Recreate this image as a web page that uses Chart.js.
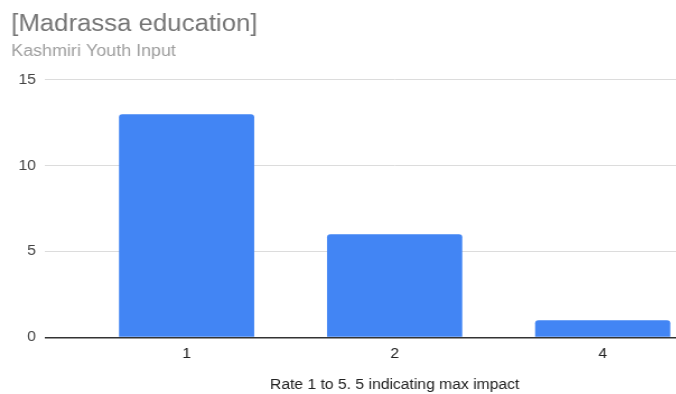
<!DOCTYPE html>
<html>
<head>
<meta charset="utf-8">
<title>Madrassa education</title>
<script src="https://cdn.jsdelivr.net/npm/chart.js@4"></script>
<style>
    html, body { margin: 0; padding: 0; overflow: hidden; background: #fff; }
    /* the chart is drawn a bit narrow and stretched out sideways */
    #wrap { width: 631px; height: 394px; transform: scaleX(1.12); transform-origin: 0 0; }
</style>
</head>
<body>
<div id="wrap"><canvas id="madrassa"></canvas></div>
<script>
var ratings = ['1', '2', '4'];
var responses = [13, 6, 1];
var yMax = 15;
var yStep = 5;

var font = '"Liberation Sans", Arial, sans-serif';

var ctx = document.getElementById("madrassa");
var myChart = new Chart(ctx, {
    type: 'bar',
    data: {
        labels: ratings,
        datasets: [{
            label: 'Kashmiri Youth Input',
            data: responses,
            backgroundColor: '#4285f4',
            borderRadius: 3,
            barPercentage: 0.65,
            categoryPercentage: 1
        }]
    },
    options: {
        responsive: true,
        maintainAspectRatio: false,
        animation: false,
        layout: { padding: { left: 10, right: 0, top: 0, bottom: 0 } },
        plugins: {
            legend: { display: false },
            tooltip: { enabled: false },
            title: {
                display: true,
                text: '[Madrassa education]',
                align: 'start',
                color: '#757575',
                font: { family: font, size: 23, weight: 'normal' },
                padding: { top: 11, bottom: 0 }
            },
            subtitle: {
                display: true,
                text: 'Kashmiri Youth Input',
                align: 'start',
                color: '#9e9e9e',
                font: { family: font, size: 16, weight: 'normal' },
                padding: { top: 3, bottom: 19 }
            }
        },
        scales: {
            x: {
                grid: { display: false, drawTicks: false },
                border: { display: false },
                ticks: { color: '#222', padding: 8, font: { family: font, size: 14 } },
                title: {
                    display: true,
                    text: 'Rate 1 to 5. 5 indicating max impact',
                    color: '#222',
                    font: { family: font, size: 14 },
                    padding: { top: 7, bottom: 0 }
                }
            },
            y: {
                min: 0,
                max: yMax,
                ticks: { stepSize: yStep, color: '#444', padding: 8, font: { family: font, size: 14 } },
                border: { display: false },
                grid: {
                    tickLength: 33.7,
                    color: function (c) { return c.tick && c.tick.value === 0 ? '#333' : '#dcdcdc'; },
                    lineWidth: function (c) { return c.tick && c.tick.value === 0 ? 1.5 : 1; }
                },
                afterFit: function (scale) { scale.width = 63.7; }
            }
        }
    }
});
</script>
</body>
</html>
